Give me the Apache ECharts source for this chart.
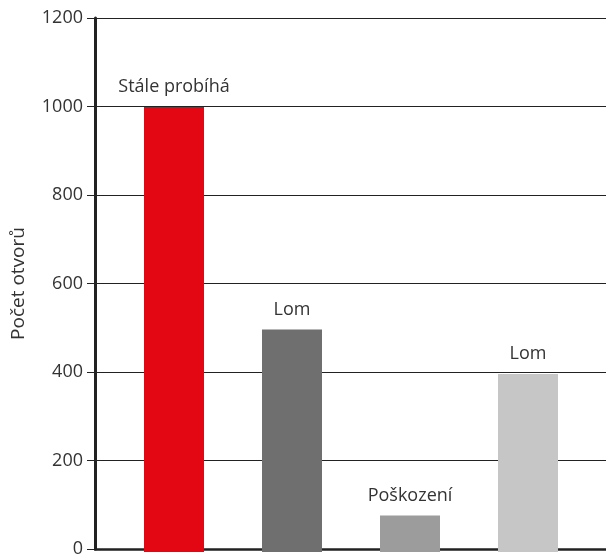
<!DOCTYPE html>
<html><head><meta charset="utf-8">
<script src="https://cdn.jsdelivr.net/npm/echarts@6/dist/echarts.min.js"></script>
<style>html,body{margin:0;padding:0;background:#fff}#c{width:606px;height:558px}</style>
</head><body><div id="c"></div>
<script>
const categories = ['Stále probíhá', 'Lom', 'Poškození', 'Lom'];
const values = [1000, 500, 82, 400];
const barColors = ['#e30613', '#6f6f6f', '#9c9c9c', '#c6c6c6'];
const yTicks = [0, 200, 400, 600, 800, 1000, 1200];
const yName = 'Počet otvorů';

const chart = echarts.init(document.getElementById('c'));
const font = '"Open Sans", Roboto, sans-serif';
chart.setOption({
  animation: false,
  grid: [
    {left: 95, right: 0, top: 18, bottom: 6},
    {left: 115, width: 472, top: 18, bottom: 6}
  ],
  xAxis: [
    {gridIndex: 0, type: 'category', data: [''], axisLine: {show: true, lineStyle: {color: '#222', width: 2.5}}, axisTick: {show: false}, axisLabel: {show: false}},
    {gridIndex: 1, type: 'category', data: categories.map((c, i) => c + '#' + i), axisLine: {show: false}, axisTick: {show: false}, axisLabel: {show: false}}
  ],
  yAxis: [
    {gridIndex: 0, type: 'value', min: yTicks[0], max: yTicks[yTicks.length - 1], interval: 200,
      name: yName, nameLocation: 'middle', nameGap: 67, nameRotate: 90,
      nameTextStyle: {fontFamily: font, fontSize: 19, color: '#333'},
      axisLine: {show: true, lineStyle: {color: '#222', width: 3}},
      axisTick: {show: true, length: 8, lineStyle: {color: '#222', width: 1}},
      axisLabel: {fontFamily: font, fontSize: 18, color: '#333', margin: 12, formatter: v => String(v)},
      splitLine: {show: true, lineStyle: {color: '#222', width: 1}}},
    {gridIndex: 1, type: 'value', min: yTicks[0], max: yTicks[yTicks.length - 1], interval: 200, show: false, splitLine: {show: false}}
  ],
  series: [{
    type: 'bar', xAxisIndex: 1, yAxisIndex: 1, barWidth: 60,
    data: values.map((v, i) => ({value: v, itemStyle: {color: barColors[i]}})),
    label: {show: true, position: 'top', distance: 11, fontFamily: font, fontSize: 18, color: '#333',
      formatter: p => categories[p.dataIndex]}
  }]
});
</script></body></html>
